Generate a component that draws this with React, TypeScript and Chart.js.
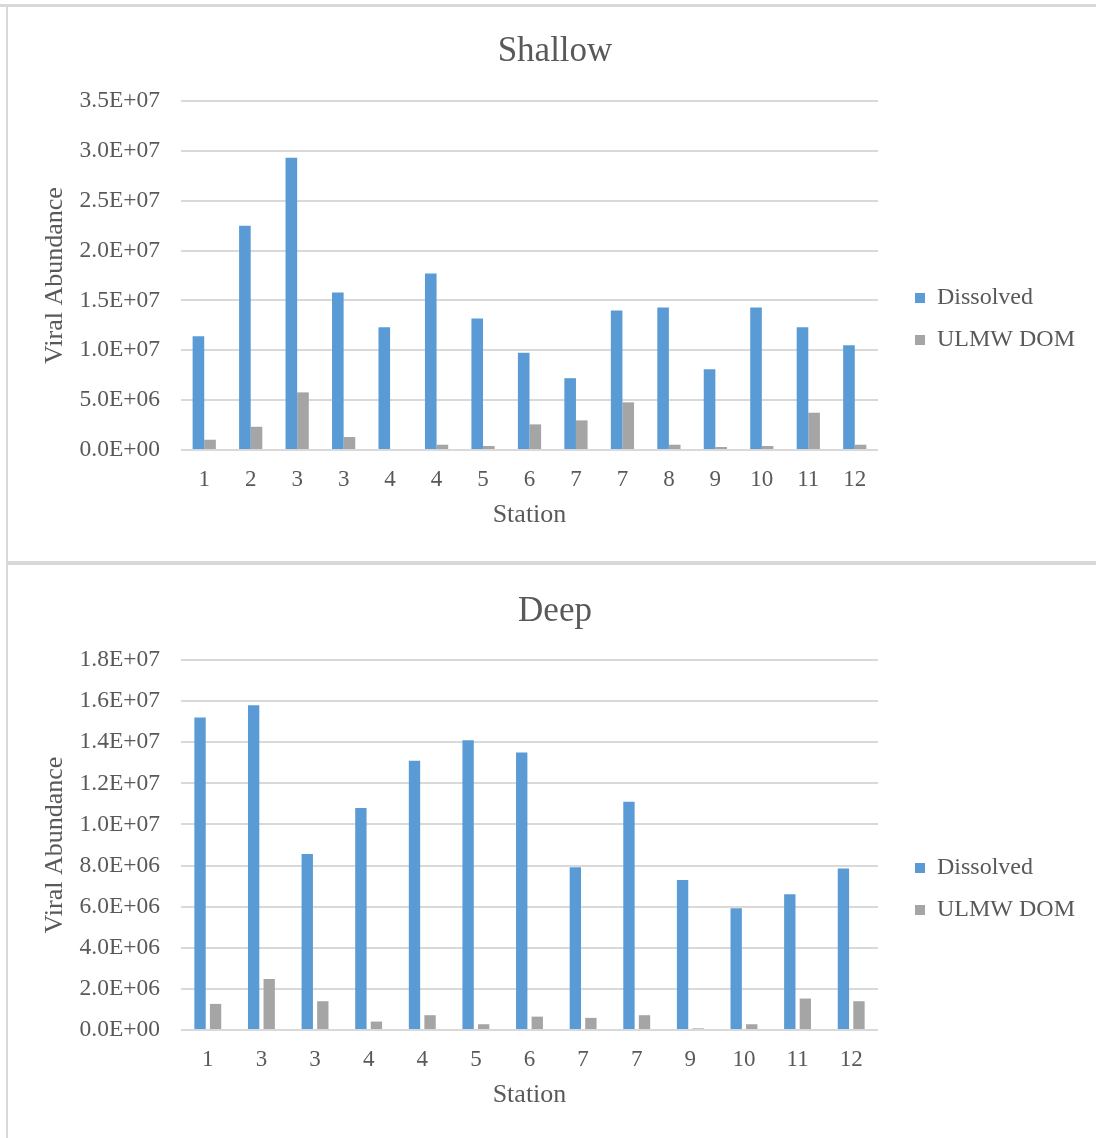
import React, { useEffect, useRef } from "react";
import { Chart, registerables } from "chart.js";

Chart.register(...registerables);

const shallowStations = ["1", "2", "3", "3", "4", "4", "5", "6", "7", "7", "8", "9", "10", "11", "12"];
const shallowDissolved = [1.14e7, 2.25e7, 2.93e7, 1.58e7, 1.23e7, 1.77e7, 1.32e7, 9.75e6, 7.2e6, 1.40e7, 1.43e7, 8.1e6, 1.43e7, 1.23e7, 1.05e7];
const shallowUlmw = [1.03e6, 2.33e6, 5.78e6, 1.3e6, 0, 5.3e5, 4e5, 2.57e6, 2.97e6, 4.78e6, 5.3e5, 3e5, 4e5, 3.74e6, 5.3e5];

const deepStations = ["1", "3", "3", "4", "4", "5", "6", "7", "7", "9", "10", "11", "12"];
const deepDissolved = [1.52e7, 1.58e7, 8.56e6, 1.08e7, 1.31e7, 1.41e7, 1.35e7, 7.92e6, 1.11e7, 7.3e6, 5.92e6, 6.6e6, 7.86e6];
const deepUlmw = [1.27e6, 2.48e6, 1.4e6, 4.1e5, 7.2e5, 2.8e5, 6.5e5, 5.9e5, 7.2e5, 8e4, 2.8e5, 1.53e6, 1.4e6];

const seriesNames = ["Dissolved", "ULMW DOM"];
const seriesColors = ["#5B9BD5", "#A5A5A5"];

const FONT = "'Liberation Serif', 'Times New Roman', serif";
const TEXT = "#595959";
const GRID = "#D9D9D9";

function fmtSci(v: number): string {
  if (v === 0) return "0.0E+00";
  const e = Math.floor(Math.log10(v) + 1e-9);
  const m = v / Math.pow(10, e);
  return m.toFixed(1) + "E+" + String(e).padStart(2, "0");
}

type Props = {
  title: string;
  labels: string[];
  a: number[];
  b: number[];
  max: number;
  step: number;
  top: number;
  height: number;
  titlePadBottom: number;
  padBottom: number;
  legendTop: number;
  catPct: number;
  barPct: number;
};

function BarPanel(p: Props) {
  const ref = useRef<HTMLCanvasElement | null>(null);
  useEffect(() => {
    if (!ref.current) return;
    const placer = {
      id: "legendPlacer",
      beforeDraw(chart: any) {
        const lg = chart.legend;
        if (lg) {
          lg.left = 897;
          lg.right = 1096;
          lg.top = p.legendTop;
          lg.bottom = p.legendTop + 200;
        }
        const tb = chart.titleBlock;
        if (tb) {
          tb.left = 14;
          tb.right = 1096;
          tb.width = 1082;
        }
      },
    };
    const chart = new Chart(ref.current, {
      type: "bar",
      data: {
        labels: p.labels,
        datasets: [
          { label: seriesNames[0], data: p.a, backgroundColor: seriesColors[0], borderWidth: 0, categoryPercentage: p.catPct, barPercentage: p.barPct },
          { label: seriesNames[1], data: p.b, backgroundColor: seriesColors[1], borderWidth: 0, categoryPercentage: p.catPct, barPercentage: p.barPct },
        ],
      },
      options: {
        responsive: false,
        animation: false,
        layout: { padding: { left: 36, right: 218, top: 0, bottom: p.padBottom } },
        plugins: {
          title: {
            display: true,
            text: p.title,
            color: TEXT,
            font: { family: FONT, size: 35, weight: "normal" },
            padding: { top: 26, bottom: p.titlePadBottom },
          },
          legend: {
            position: "chartArea" as any,
            align: "start",
            labels: {
              boxWidth: 10,
              boxHeight: 10,
              padding: 18,
              color: TEXT,
              font: { family: FONT, size: 24 },
            },
          },
          tooltip: { enabled: false },
        },
        scales: {
          x: {
            grid: { display: false },
            border: { display: false },
            ticks: { color: TEXT, font: { family: FONT, size: 23 }, padding: 8, autoSkip: false, maxRotation: 0 },
            title: { display: true, text: "Station", color: TEXT, font: { family: FONT, size: 26 }, padding: { top: 8, bottom: 3 } },
            afterFit(scale: any) { scale.height = 84; },
          },
          y: {
            min: 0,
            max: p.max,
            grid: { color: GRID, lineWidth: 2, drawTicks: false },
            border: { display: false },
            ticks: {
              stepSize: p.step,
              color: TEXT,
              font: { family: FONT, size: 23.5 },
              padding: 21,
              callback: (v: any) => fmtSci(Number(v)),
            },
            title: { display: true, text: "Viral Abundance", color: TEXT, font: { family: FONT, size: 26 }, padding: { top: 4, bottom: 4 } },
            afterFit(scale: any) { scale.width = 145; },
          },
        },
      },
      plugins: [placer],
    } as any);
    return () => chart.destroy();
  }, []);
  return (
    <canvas
      ref={ref}
      width={1096}
      height={p.height}
      style={{ position: "absolute", left: 0, top: p.top, width: 1096, height: p.height }}
    />
  );
}

export default function App() {
  useEffect(() => {
    document.body.style.margin = "0";
    document.body.style.background = "#ffffff";
    document.body.style.overflow = "hidden";
  }, []);
  return (
    <div style={{ position: "relative", width: 1096, height: 1138, overflow: "hidden", background: "#fff" }}>
      <BarPanel
        title="Shallow"
        labels={shallowStations}
        a={shallowDissolved}
        b={shallowUlmw}
        max={3.5e7}
        step={5e6}
        top={5}
        height={557}
        titlePadBottom={28}
        padBottom={28}
        legendTop={263}
        catPct={0.5}
        barPct={1}
      />
      <BarPanel
        title="Deep"
        labels={deepStations}
        a={deepDissolved}
        b={deepUlmw}
        max={1.8e7}
        step={2e6}
        top={565}
        height={573}
        titlePadBottom={27}
        padBottom={24}
        legendTop={273}
        catPct={0.58}
        barPct={0.73}
      />
      <div style={{ position: "absolute", left: 0, top: 4, width: 1096, height: 3, background: GRID }} />
      <div style={{ position: "absolute", left: 6, top: 4, width: 2, height: 1134, background: GRID }} />
      <div style={{ position: "absolute", left: 6, top: 561, width: 1090, height: 4, background: GRID }} />
    </div>
  );
}
